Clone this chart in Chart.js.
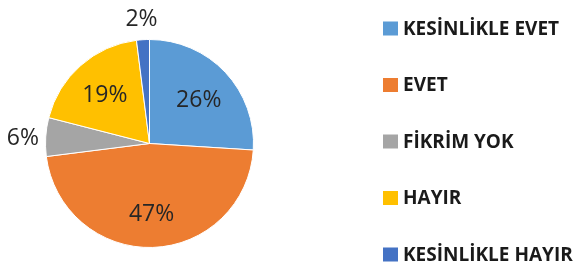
<!DOCTYPE html>
<html>
<head>
<meta charset="utf-8">
<script src="https://cdn.jsdelivr.net/npm/chart.js@4/dist/chart.umd.min.js"></script>
<style>
  html, body { margin: 0; padding: 0; background: #fff; }
  #wrap { width: 581px; height: 268px; }
</style>
</head>
<body>
<div id="wrap"><canvas id="pie" width="581" height="268"></canvas></div>
<script>
const categories = ['KESİNLİKLE EVET', 'EVET', 'FİKRİM YOK', 'HAYIR', 'KESİNLİKLE HAYIR'];
const percentages = [26, 47, 6, 19, 2];
const sliceColors = ['#5B9BD5', '#ED7D31', '#A5A5A5', '#FFC000', '#4472C4'];

// percent labels: inside for big slices, outside for small ones
const sliceLabels = {
  id: 'sliceLabels',
  afterDatasetsDraw(chart) {
    const ctx = chart.ctx;
    const meta = chart.getDatasetMeta(0);
    ctx.save();
    ctx.font = '23px "Open Sans"';
    ctx.fillStyle = '#262626';
    ctx.textAlign = 'center';
    ctx.textBaseline = 'middle';
    meta.data.forEach((arc, i) => {
      const p = arc.getProps(['x', 'y', 'startAngle', 'endAngle', 'outerRadius'], true);
      const mid = (p.startAngle + p.endAngle) / 2;
      const r = percentages[i] < 10 ? p.outerRadius * 1.22 : p.outerRadius * 0.65;
      ctx.fillText(percentages[i] + '%', p.x + Math.cos(mid) * r, p.y + Math.sin(mid) * r + 3);
    });
    ctx.restore();
  }
};

// legend on the right, one row per category
const sideLegend = {
  id: 'sideLegend',
  afterDraw(chart) {
    const ctx = chart.ctx;
    ctx.save();
    ctx.font = 'bold 19px "Open Sans"';
    ctx.textBaseline = 'middle';
    categories.forEach((name, i) => {
      const y = 28.5 + i * 56.5;
      ctx.fillStyle = sliceColors[i];
      ctx.fillRect(383, y - 7, 15, 14);
      ctx.fillStyle = '#1a1a1a';
      ctx.fillText(name, 403, y + 1);
    });
    ctx.restore();
  }
};

new Chart(document.getElementById('pie'), {
  type: 'pie',
  data: {
    labels: categories,
    datasets: [{
      data: percentages,
      backgroundColor: sliceColors,
      borderColor: '#ffffff',
      borderWidth: 1
    }]
  },
  options: {
    responsive: false,
    animation: false,
    layout: { padding: { left: 45, right: 327, top: 39, bottom: 20 } },
    plugins: {
      legend: { display: false },
      tooltip: { enabled: false }
    }
  },
  plugins: [sliceLabels, sideLegend]
});
</script>
</body>
</html>
